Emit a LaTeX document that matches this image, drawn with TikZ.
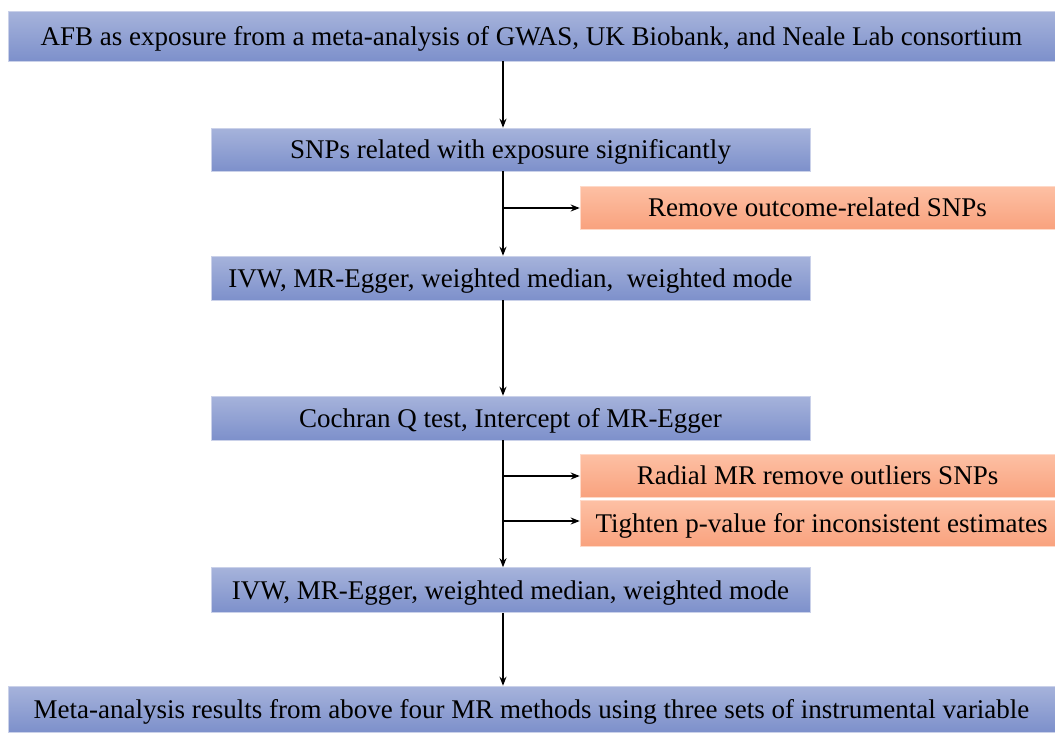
\documentclass[tikz,border=0pt]{standalone}
\usepackage{fontspec}
\setmainfont{Liberation Serif}
\usetikzlibrary{arrows.meta}
\definecolor{bluetop}{HTML}{A6B3DB}
\definecolor{bluebot}{HTML}{7D90CB}
\definecolor{orgtop}{HTML}{FDC0A4}
\definecolor{orgbot}{HTML}{F9A27E}
\tikzset{
  boxbase/.style={rectangle, line width=0.6pt, inner sep=0pt, text height=23pt, text depth=5pt, font=\fontsize{27}{30}\selectfont, text=black},
  bluebox/.style={boxbase, top color=bluetop, bottom color=bluebot, draw=bluetop!60!white},
  orgbox/.style={boxbase, top color=orgtop, bottom color=orgbot, draw=orgtop!60!white},
  flow/.style={line width=1.6pt, -{Stealth[length=9pt,width=7pt]}}
}
\begin{document}
\begin{tikzpicture}[x=1pt,y=-1pt]
\useasboundingbox (0,0) rectangle (1055,732);
\node[bluebox, minimum width=1047pt, minimum height=50pt] (top) at (531.5,36) {AFB as exposure from a meta-analysis of GWAS, UK Biobank, and Neale Lab consortium};
\node[bluebox, minimum width=599pt, minimum height=43pt] (snp) at (510.5,149.5) {SNPs related with exposure significantly};
\node[orgbox, minimum width=475pt, minimum height=43pt] (rem) at (817.5,207.5) {Remove outcome-related SNPs};
\node[bluebox, minimum width=599pt, minimum height=44pt] (ivw1) at (510.5,278) {IVW, MR-Egger, weighted median,\ \ weighted mode};
\node[bluebox, minimum width=599pt, minimum height=44pt] (coch) at (510.5,418) {Cochran Q test, Intercept of MR-Egger};
\node[orgbox, minimum width=475pt, minimum height=43pt] (rad) at (817.5,475.5) {Radial MR remove outliers SNPs};
\node[orgbox, minimum width=475pt, minimum height=46pt] (tig) at (817.5,523.5) {\hspace*{8pt}Tighten p-value for inconsistent estimates};
\node[bluebox, minimum width=599pt, minimum height=45pt] (ivw2) at (510.5,590) {IVW, MR-Egger, weighted median, weighted mode};
\node[bluebox, minimum width=1047pt, minimum height=46pt] (bot) at (531.5,709) {Meta-analysis results from above four MR methods using three sets of instrumental variable};
\coordinate (b1) at (503,208);
\coordinate (b2) at (503,476);
\coordinate (b3) at (503,521);
\draw[flow] (top.south -| b1) -- (snp.north -| b1);
\draw[flow] (snp.south -| b1) -- (ivw1.north -| b1);
\draw[flow] (b1) -- (b1 -| rem.west);
\draw[flow] (ivw1.south -| b1) -- (coch.north -| b1);
\draw[flow] (coch.south -| b1) -- (ivw2.north -| b1);
\draw[flow] (b2) -- (b2 -| rad.west);
\draw[flow] (b3) -- (b3 -| tig.west);
\draw[flow] (ivw2.south -| b1) -- (bot.north -| b1);
\end{tikzpicture}
\end{document}
